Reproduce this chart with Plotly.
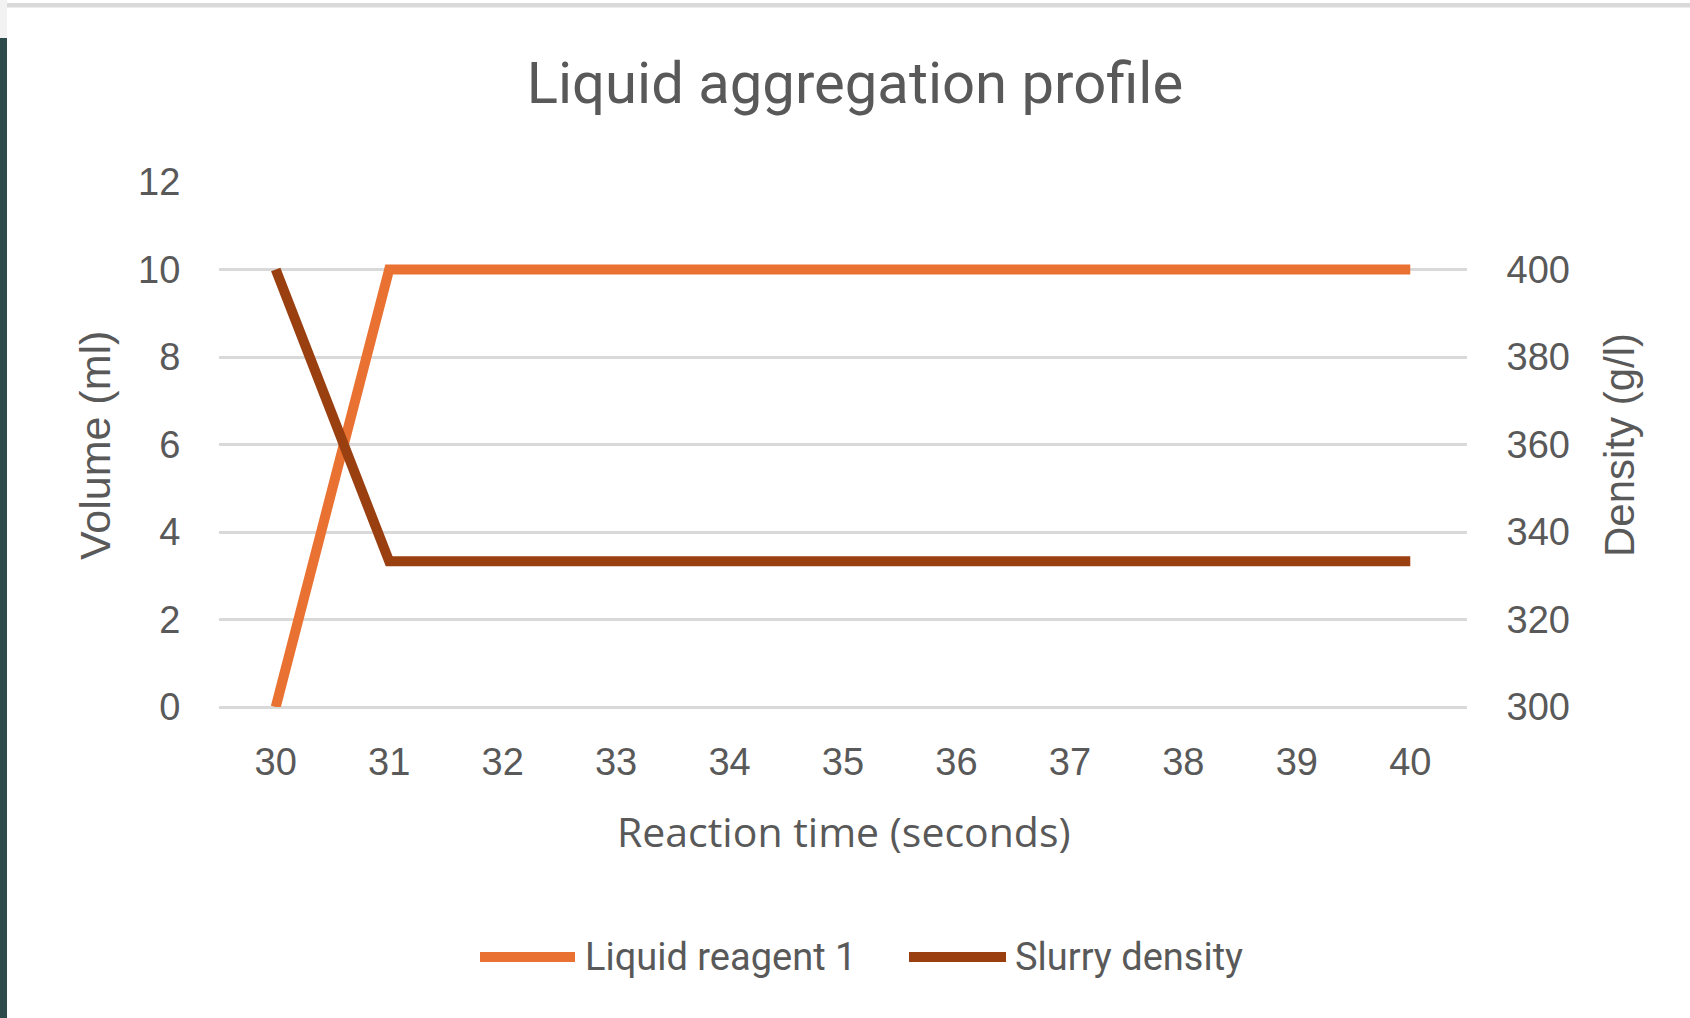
import plotly.graph_objects as go

# ---- data ----
reaction_time = [30, 31, 32, 33, 34, 35, 36, 37, 38, 39, 40]
liquid_reagent_1 = [0, 10, 10, 10, 10, 10, 10, 10, 10, 10, 10]
slurry_density = [400, 333.3, 333.3, 333.3, 333.3, 333.3, 333.3, 333.3, 333.3, 333.3, 333.3]
volume_ticks = [0, 2, 4, 6, 8, 10, 12]
density_ticks = [300, 320, 340, 360, 380, 400]
series_names = ["Liquid reagent 1", "Slurry density"]
series_colors = ["#E97132", "#9A3F10"]

W, H = 1690, 1018
L, R, T, B = 219, 1467, 182, 707


def px_x(p):
    return (p - L) / (R - L)


def px_y(p):
    return (B - p) / (B - T)


TXT = "#595959"
GRID = "#D9D9D9"
ARIAL = "Liberation Sans, Arial, sans-serif"
TITLEF = "Roboto, sans-serif"
XTF = "Open Sans, sans-serif"

fig = go.Figure()
fig.add_trace(go.Scatter(x=reaction_time, y=liquid_reagent_1, mode="lines",
                         name=series_names[0],
                         line=dict(color=series_colors[0], width=10),
                         yaxis="y"))
fig.add_trace(go.Scatter(x=reaction_time, y=slurry_density, mode="lines",
                         name=series_names[1],
                         line=dict(color=series_colors[1], width=10),
                         yaxis="y2"))

shapes = [
    # page frame decorations
    dict(type="rect", xref="paper", yref="paper", x0=px_x(0), x1=px_x(7),
         y0=px_y(38), y1=px_y(H), fillcolor="#2E4B4C", line=dict(width=0), layer="above"),
    dict(type="rect", xref="paper", yref="paper", x0=px_x(0), x1=px_x(7),
         y0=px_y(0), y1=px_y(38), fillcolor="#F2F2F2", line=dict(width=0), layer="above"),
    dict(type="rect", xref="paper", yref="paper", x0=px_x(7), x1=px_x(W),
         y0=px_y(3), y1=px_y(7.5), fillcolor="#D9D9D9", line=dict(width=0), layer="above"),
]

# custom legend (long line symbols as in reference)
legend_items = [(480, 575, 583), (909, 1006, 1013)]
annotations = []
for (lx0, lx1, tx), name, col in zip(legend_items, series_names, series_colors):
    shapes.append(dict(type="line", xref="paper", yref="paper",
                       x0=px_x(lx0), x1=px_x(lx1), y0=px_y(957), y1=px_y(957),
                       line=dict(color=col, width=10)))
    annotations.append(dict(text=name, xref="paper", yref="paper",
                            x=px_x(tx), y=px_y(957), xanchor="left", yanchor="middle",
                            showarrow=False, font=dict(family=TITLEF, size=38, color=TXT)))

annotations += [
    dict(text="Volume (ml)", xref="paper", yref="paper", x=px_x(95), y=px_y(446),
         textangle=-90, showarrow=False, xanchor="center", yanchor="middle",
         font=dict(family=ARIAL, size=43, color=TXT)),
    dict(text="Density (g/l)", xref="paper", yref="paper", x=px_x(1619), y=px_y(445),
         textangle=-90, showarrow=False, xanchor="center", yanchor="middle",
         font=dict(family=ARIAL, size=42, color=TXT)),
    dict(text="Reaction time (seconds)", xref="paper", yref="paper", x=px_x(844), y=px_y(831),
         showarrow=False, xanchor="center", yanchor="middle",
         font=dict(family=XTF, size=41, color=TXT)),
]

fig.update_layout(
    width=W, height=H,
    margin=dict(l=L, r=W - R, t=T, b=H - B, pad=0),
    paper_bgcolor="white", plot_bgcolor="white",
    showlegend=False,
    title=dict(text="Liquid aggregation profile", x=855 / W, xref="container",
               y=1 - 83 / H, yref="container", xanchor="center", yanchor="middle",
               font=dict(family=TITLEF, size=58, color=TXT)),
    xaxis=dict(range=[29.5, 40.5], tickvals=reaction_time, showgrid=False,
               zeroline=False, showline=False, ticks="outside", ticklen=21,
               tickcolor="rgba(0,0,0,0)",
               tickfont=dict(family=ARIAL, size=38, color=TXT)),
    yaxis=dict(range=[0, 12], tickvals=volume_ticks, showgrid=True, gridcolor=GRID,
               gridwidth=3, zeroline=True, zerolinecolor=GRID, zerolinewidth=3,
               showline=False, ticks="outside", ticklen=30, tickcolor="rgba(0,0,0,0)",
               tickfont=dict(family=ARIAL, size=38, color=TXT)),
    yaxis2=dict(range=[300, 420], tickvals=density_ticks, overlaying="y", side="right",
                showgrid=False, zeroline=False, showline=False, ticks="outside",
                ticklen=31, tickcolor="rgba(0,0,0,0)",
                tickfont=dict(family=ARIAL, size=38, color=TXT)),
    shapes=shapes,
    annotations=annotations,
)

fig.write_html("out.html", config={"displayModeBar": False},
               post_script="document.body.style.margin='0';document.body.style.overflow='hidden';")
